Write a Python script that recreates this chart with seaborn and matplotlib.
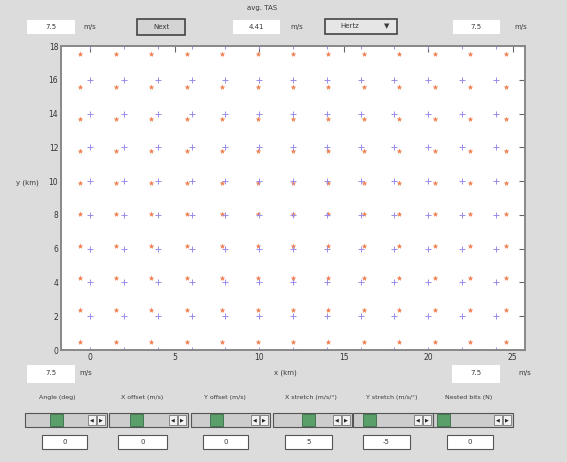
"""
Grid displacement view: reference grid (+) and stretched grid (*), with the GUI controls around it.
"""
import numpy as np
import pandas as pd
import matplotlib
matplotlib.use("Agg")
import matplotlib.pyplot as plt
from matplotlib.patches import Rectangle
import seaborn as sns

# reference grid (blue +)
ref_x = [0, 2, 4, 6, 8, 10, 12, 14, 16, 18, 20, 22, 24]
ref_y = [0, 2, 4, 6, 8, 10, 12, 14, 16, 18]
# stretched grid (orange *)
str_x = [-0.6, 1.5, 3.6, 5.7, 7.8, 9.9, 12.0, 14.1, 16.2, 18.3, 20.4, 22.5, 24.6]
str_y = [0.45, 2.35, 4.25, 6.15, 8.05, 9.9, 11.8, 13.7, 15.6, 17.5]

x_ticks = [0, 5, 10, 15, 20, 25]
y_ticks = [0, 2, 4, 6, 8, 10, 12, 14, 16, 18]

slider_labels = ["Angle (deg)", "X offset (m/s)", "Y offset (m/s)",
                 "X stretch (m/s/°)", "Y stretch (m/s/°)", "Nested bits (N)"]
slider_values = ["0", "0", "0", "5", "-5", "0"]

W, H = 567, 462
BG = "#dcdcdc"
ORANGE = "#f07a4a"
BLUE = "#9a8cec"


def fx(x):
    return x / W


def fy(y):
    return 1 - y / H


def box(fig, x0, y0, x1, y1, face="white", edge="none", lw=0.8):
    fig.add_artist(Rectangle((fx(x0), fy(y1)), (x1 - x0) / W, (y1 - y0) / H,
                             facecolor=face, edgecolor=edge, lw=lw, transform=fig.transFigure))


def label(fig, x, y, s, size=5, ha="center", color="#3a3a3a"):
    fig.text(fx(x), fy(y), s, ha=ha, va="center", fontsize=size, color=color)


def grid_frame(xs, ys, name):
    gx, gy = np.meshgrid(xs, ys)
    return pd.DataFrame({"x": gx.ravel(), "y": gy.ravel(), "grid": name})


def draw_controls(fig):
    # top row
    box(fig, 27, 20, 75, 34)
    label(fig, 51, 27, "7.5")
    label(fig, 90, 27, "m/s")
    box(fig, 137, 19, 185, 35, face="#d4d4d4", edge="#444444", lw=1.2)
    label(fig, 161, 27, "Next")
    label(fig, 262, 8, "avg. TAS")
    box(fig, 233, 20, 280, 34)
    label(fig, 256, 27, "4.41")
    label(fig, 297, 27, "m/s")
    box(fig, 325, 19, 397, 34, face="#e6e6e6", edge="#444444", lw=1.2)
    label(fig, 350, 26.5, "Hertz")
    label(fig, 387, 26.5, "▼", size=5)
    box(fig, 453, 20, 500, 34)
    label(fig, 476, 27, "7.5")
    label(fig, 521, 27, "m/s")

    # under the axes
    box(fig, 27, 365, 75, 383)
    label(fig, 51, 373, "7.5")
    label(fig, 86, 373, "m/s")
    box(fig, 452, 365, 500, 383)
    label(fig, 476, 373, "7.5")
    label(fig, 518, 373, "m/s", ha="left")

    # sliders
    label_x = [57, 142, 225, 311, 392, 469]
    slider_x = [(25, 107), (109, 188), (191, 270), (273, 352), (353, 433), (433, 513)]
    thumb_x = [50, 130, 210, 302, 363, 437]
    value_x = [(42, 87), (118, 167), (203, 248), (285, 332), (363, 410), (447, 493)]
    for i, text in enumerate(slider_labels):
        label(fig, label_x[i], 398, text, size=4.5)
        s0, s1 = slider_x[i]
        box(fig, s0, 413, s1, 427, face="#cdcdcd", edge="#555555", lw=0.8)
        box(fig, thumb_x[i], 414, thumb_x[i] + 13, 426, face="#5a9e6a", edge="#3a6e48", lw=0.6)
        box(fig, s1 - 19, 415, s1 - 11, 425, face="#f2f2f2", edge="#666666", lw=0.5)
        box(fig, s1 - 10, 415, s1 - 2, 425, face="#f2f2f2", edge="#666666", lw=0.5)
        label(fig, s1 - 15, 420, "◀", size=3.5, color="#222222")
        label(fig, s1 - 6, 420, "▶", size=3.5, color="#222222")
        v0, v1 = value_x[i]
        box(fig, v0, 435, v1, 449, face="white", edge="#555555", lw=0.8)
        label(fig, (v0 + v1) / 2, 442, slider_values[i])


def main():
    sns.set_style("white")
    plt.rcParams["font.family"] = ["DejaVu Sans"]

    fig = plt.figure(figsize=(W / 100, H / 100), dpi=100, facecolor=BG)
    ax = fig.add_axes([fx(61), fy(350), 464 / W, 304 / H])

    stretched = grid_frame(str_x, str_y, "stretched")
    reference = grid_frame(ref_x, ref_y, "reference")

    sns.scatterplot(data=stretched, x="x", y="y", ax=ax, marker="*", s=11,
                    color=ORANGE, edgecolor=ORANGE, linewidth=0.3, legend=False)
    sns.scatterplot(data=reference, x="x", y="y", ax=ax, marker="+", s=14,
                    color=BLUE, linewidth=0.7, legend=False)

    ax.set_xlim(-1.73, 25.73)
    ax.set_ylim(0, 18)
    ax.set_xticks(x_ticks)
    ax.set_yticks(y_ticks)
    ax.tick_params(direction="in", length=4, width=0.8, colors="#666666", labelsize=5.5,
                   labelcolor="#333333", top=True, right=True, pad=2)
    for side in ax.spines.values():
        side.set_color("#888888")
        side.set_linewidth(1.4)
    ax.set_xlabel("")
    ax.set_ylabel("")
    label(fig, 285, 373, "x (km)")
    label(fig, 27, 183, "y (km)")

    draw_controls(fig)
    fig.savefig("out.png", dpi=100, facecolor=BG)
    plt.close(fig)


if __name__ == "__main__":
    main()
